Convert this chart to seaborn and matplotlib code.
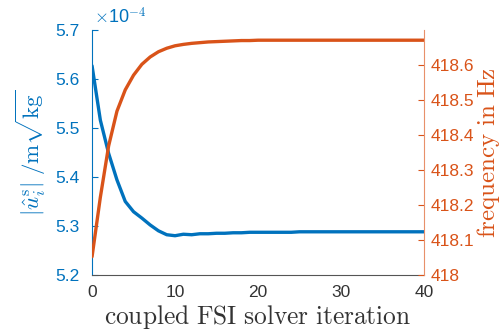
import matplotlib
matplotlib.use("Agg")
import matplotlib.pyplot as plt
import seaborn as sns
import pandas as pd

# Coupled FSI iterations and the two monitored quantities
iteration = list(range(0, 41))
# displacement amplitude, in units of 1e-4 m/sqrt(kg)
amplitude = [5.627, 5.516, 5.448, 5.394, 5.350, 5.329, 5.316, 5.302, 5.290, 5.282,
             5.280, 5.283, 5.282, 5.284, 5.284, 5.285, 5.285, 5.286, 5.286, 5.287,
             5.287, 5.287, 5.287, 5.287, 5.287, 5.288, 5.288, 5.288, 5.288, 5.288,
             5.288, 5.288, 5.288, 5.288, 5.288, 5.288, 5.288, 5.288, 5.288, 5.288,
             5.288]
# eigenfrequency in Hz
frequency = [418.052, 418.222, 418.369, 418.468, 418.529, 418.571, 418.602, 418.623,
             418.638, 418.648, 418.655, 418.659, 418.662, 418.664, 418.666, 418.667,
             418.668, 418.669, 418.670, 418.670, 418.671, 418.671, 418.671, 418.671,
             418.671, 418.671, 418.671, 418.671, 418.671, 418.671, 418.671, 418.671,
             418.671, 418.671, 418.671, 418.671, 418.671, 418.671, 418.671, 418.671,
             418.671]
left_ticks = [5.2, 5.3, 5.4, 5.5, 5.6, 5.7]
right_ticks = [418, 418.1, 418.2, 418.3, 418.4, 418.5, 418.6]
right_ticklabels = ["418", "418.1", "418.2", "418.3", "418.4", "418.5", "418.6"]
x_ticks = [0, 10, 20, 30, 40]

df = pd.DataFrame({"it": iteration, "amp": amplitude, "freq": frequency})

sns.set_style("white")
plt.rcParams["font.family"] = ["Liberation Sans", "DejaVu Sans"]
plt.rcParams["mathtext.fontset"] = "cm"

BLUE = "#0072BD"
ORANGE = "#D95319"
GREY = "#262626"

fig = plt.figure(figsize=(5.03, 3.34), dpi=100)
ax = fig.add_axes([0.183, 0.177, 0.660, 0.733])
ax2 = ax.twinx()

sns.lineplot(data=df, x="it", y="amp", ax=ax, color=BLUE, linewidth=2.4)
sns.lineplot(data=df, x="it", y="freq", ax=ax2, color=ORANGE, linewidth=2.4)

ax.set_xlim(0, 40)
ax.set_ylim(5.2, 5.7)
ax2.set_ylim(418, 418.7)
ax.set_xticks(x_ticks)
ax.set_yticks(left_ticks)
ax.set_yticklabels([f"{v:.1f}" for v in left_ticks])
ax2.set_yticks(right_ticks)
ax2.set_yticklabels(right_ticklabels)

for a in (ax, ax2):
    a.spines["top"].set_visible(False)
    a.set_facecolor("none")
    for s in a.spines.values():
        s.set_linewidth(0.8)
ax2.spines["left"].set_visible(False)
ax2.spines["bottom"].set_visible(False)
ax.spines["right"].set_visible(False)
ax.spines["left"].set_color(BLUE)
ax.spines["bottom"].set_color("#555555")
ax2.spines["right"].set_color("#E8906A")

ax.tick_params(axis="x", direction="in", length=4, colors=GREY, labelsize=12.5,
               labelcolor="#333333", pad=7)
ax.tick_params(axis="y", direction="in", length=4, colors=BLUE, labelsize=12.5, pad=9)
ax2.tick_params(axis="y", direction="in", length=4, colors=ORANGE, labelsize=12.5, pad=5)

ax.set_xlabel(r"$\mathrm{coupled\ FSI\ solver\ iteration}$", fontsize=18.3,
              color="#333333", labelpad=2.5)
ax.set_ylabel(r"$|\hat{u}_i^{\mathrm{s}}|\ /\mathrm{m}\sqrt{\mathrm{kg}}$", fontsize=16.5,
              color=BLUE, labelpad=5)
ax2.set_ylabel(r"$\mathrm{frequency\ in\ Hz}$", fontsize=18, color=ORANGE, labelpad=0)

ax.text(0.005, 1.01, r"$\times$10$^{-4}$", transform=ax.transAxes, fontsize=13,
        color=BLUE, ha="left", va="bottom", family=["Liberation Sans", "DejaVu Sans"])

fig.savefig("out.png", dpi=100)
